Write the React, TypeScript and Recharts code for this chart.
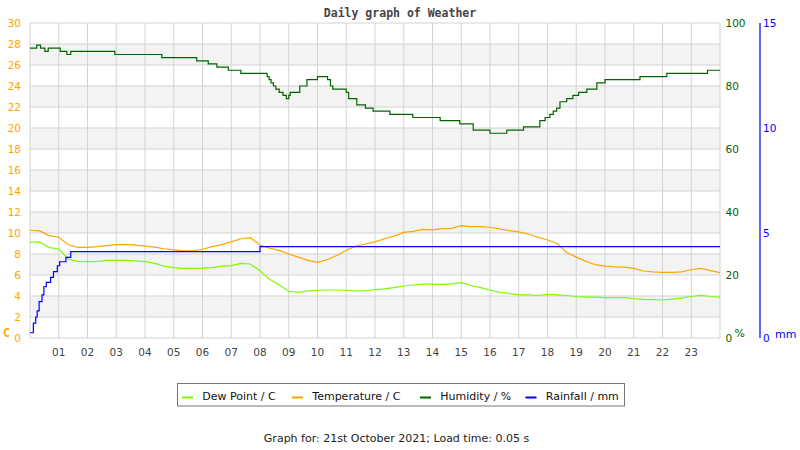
import React from 'react'
import { LineChart, Line, XAxis, YAxis, CartesianGrid } from 'recharts'

// temperature and dew point, read every 20 minutes
const times = [
  '00:00', '00:20', '00:40', '01:00', '01:20', '01:40', '02:00', '02:20', '02:40',
  '03:00', '03:20', '03:40', '04:00', '04:20', '04:40', '05:00', '05:20', '05:40',
  '06:00', '06:20', '06:40', '07:00', '07:20', '07:40', '08:00', '08:20', '08:40',
  '09:00', '09:20', '09:40', '10:00', '10:20', '10:40', '11:00', '11:20', '11:40',
  '12:00', '12:20', '12:40', '13:00', '13:20', '13:40', '14:00', '14:20', '14:40',
  '15:00', '15:20', '15:40', '16:00', '16:20', '16:40', '17:00', '17:20', '17:40',
  '18:00', '18:20', '18:40', '19:00', '19:20', '19:40', '20:00', '20:20', '20:40',
  '21:00', '21:20', '21:40', '22:00', '22:20', '22:40', '23:00', '23:20', '23:40',
  '24:00',
]

const temperature = [
  10.26, 10.2, 9.75, 9.6, 8.88, 8.63, 8.63, 8.7, 8.8,
  8.9, 8.92, 8.85, 8.75, 8.65, 8.5, 8.4, 8.3, 8.3,
  8.45, 8.7, 8.9, 9.15, 9.45, 9.55, 8.85, 8.55, 8.35,
  8.0, 7.7, 7.4, 7.2, 7.45, 7.85, 8.35, 8.75, 8.95,
  9.15, 9.45, 9.7, 10.06, 10.15, 10.35, 10.3, 10.42, 10.44,
  10.7, 10.6, 10.6, 10.55, 10.4, 10.22, 10.1, 9.9, 9.6,
  9.33, 9.0, 8.15, 7.7, 7.3, 6.98, 6.85, 6.78, 6.75,
  6.63, 6.38, 6.3, 6.25, 6.25, 6.3, 6.5, 6.63, 6.42,
  6.22,
]

const dewPoint = [
  9.1, 9.15, 8.6, 8.5, 7.5, 7.3, 7.27, 7.3, 7.4,
  7.4, 7.4, 7.35, 7.27, 7.1, 6.85, 6.7, 6.63, 6.63,
  6.65, 6.7, 6.85, 6.9, 7.1, 7.05, 6.4, 5.6, 5.05,
  4.45, 4.35, 4.48, 4.55, 4.57, 4.57, 4.55, 4.48, 4.5,
  4.6, 4.67, 4.8, 4.95, 5.05, 5.14, 5.14, 5.1, 5.15,
  5.27, 5.0, 4.8, 4.57, 4.35, 4.25, 4.1, 4.1, 4.05,
  4.15, 4.1, 4.05, 3.95, 3.9, 3.9, 3.85, 3.85, 3.85,
  3.75, 3.68, 3.65, 3.62, 3.7, 3.8, 3.95, 4.05, 3.95,
  3.9,
]

// humidity in whole percent, held until it changes
const humTimes = [
  '00:00', '00:14', '00:22', '00:31', '00:38', '01:03', '01:17', '01:25', '02:57',
  '04:35', '05:48', '06:12', '06:30', '06:54', '07:20', '08:15', '08:19', '08:23',
  '08:28', '08:33', '08:40', '08:48', '08:55', '09:00', '09:03', '09:23', '09:38',
  '10:00', '10:21', '10:27', '10:32', '11:00', '11:05', '11:22', '11:40', '11:56',
  '12:31', '13:19', '14:16', '14:57', '15:25', '16:00', '16:35', '17:10', '17:44',
  '17:55', '18:05', '18:12', '18:19', '18:26', '18:40', '18:53', '19:05', '19:22',
  '19:43', '20:00', '21:13', '22:09', '23:34', '24:00',
]
const humidity = [
  92, 93, 92, 91, 92, 91, 90, 91, 90,
  89, 88, 87, 86, 85, 84, 83, 82, 81,
  80, 79, 78, 77, 76, 77, 78, 80, 82,
  83, 82, 80, 79, 78, 76, 74, 73, 72,
  71, 70, 69, 68, 66, 65, 66, 67, 69,
  70, 71, 72, 73, 75, 76, 77, 78, 79,
  81, 82, 83, 84, 85, 85,
]

// rain gauge totals, held until the next reading
const rainTimes = [
  '00:00', '00:07', '00:12', '00:15', '00:19', '00:25', '00:29', '00:34', '00:43',
  '00:49', '00:57', '01:02', '01:15', '01:25', '08:00', '24:00',
]
const rainfall = [
  0.25, 0.71, 1.0, 1.29, 1.73, 2.05, 2.44, 2.65, 2.89,
  3.16, 3.44, 3.63, 3.84, 4.11, 4.35, 4.35,
]

const hourLabels = [
  '01', '02', '03', '04', '05', '06', '07', '08', '09', '10', '11', '12',
  '13', '14', '15', '16', '17', '18', '19', '20', '21', '22', '23',
]
const tempTicks = [0, 2, 4, 6, 8, 10, 12, 14, 16, 18, 20, 22, 24, 26, 28, 30]
const humTicks = [0, 20, 40, 60, 80, 100]
const rainTicks = [0, 5, 10, 15]

const legendItems = [
  { name: 'Dew Point / C', color: '#7cfc00', x: 182 },
  { name: 'Temperature / C', color: '#ffa500', x: 292 },
  { name: 'Humidity / %', color: '#006400', x: 420 },
  { name: 'Rainfall / mm', color: '#0000ff', x: 525.5 },
]

const toHours = (s: string) => {
  const [h, m] = s.split(':').map(Number)
  return h + m / 60
}

const table = times.map((s, i) => ({
  t: toHours(s),
  temp: temperature[i],
  dew: dewPoint[i],
}))
const humData = humTimes.map((s, i) => ({ t: toHours(s), hum: humidity[i] }))
const rainData = rainTimes.map((s, i) => ({ t: toHours(s), rain: rainfall[i] }))

const font = 'DejaVu Sans, sans-serif'
const mono = 'DejaVu Sans Mono, monospace'

export default function App() {
  return (
    <div style={{ position: 'absolute', left: 0, top: 0, width: 800, height: 450, background: '#fff' }}>
      <LineChart
        width={800}
        height={450}
        data={table}
        margin={{ top: 23, right: 0, bottom: 82, left: 0 }}
      >
        <CartesianGrid
          yAxisId='t'
          stroke='#d3d3d3'
          horizontalFill={['#ffffff', '#f3f3f3']}
        />
        <XAxis
          dataKey='t'
          type='number'
          domain={[0, 24]}
          allowDataOverflow
          ticks={[0, ...hourLabels.map(Number), 24]}
          tickFormatter={(v: number) => (v > 0 && v < 24 ? hourLabels[v - 1] : '')}
          interval={0}
          axisLine={false}
          tickLine={false}
          tickSize={6}
          tickMargin={5}
          height={30}
          tick={{ fill: '#444', fontSize: 10.5, fontFamily: font }}
        />
        <YAxis
          yAxisId='t'
          orientation='left'
          width={30}
          domain={[0, 30]}
          ticks={tempTicks}
          interval={0}
          axisLine={false}
          tickLine={false}
          tickSize={6}
          tickMargin={3}
          tick={{ fill: '#ffa500', fontSize: 10.5, fontFamily: font }}
        />
        <YAxis
          yAxisId='h'
          orientation='right'
          width={40}
          domain={[0, 100]}
          ticks={humTicks}
          interval={0}
          axisLine={false}
          tickLine={false}
          tickSize={4}
          tickMargin={1.5}
          tick={{ fill: '#006400', fontSize: 10.5, fontFamily: font }}
        />
        <YAxis
          yAxisId='r'
          orientation='right'
          width={40}
          domain={[0, 15]}
          ticks={rainTicks}
          interval={0}
          axisLine={{ stroke: '#0000ff', strokeWidth: 1.2 }}
          tickLine={false}
          tickSize={1}
          tickMargin={2}
          tick={{ fill: '#0000ff', fontSize: 10.5, fontFamily: font }}
        />
        <Line yAxisId='t' dataKey='dew' type='linear' stroke='#7cfc00' strokeWidth={1.2} dot={false} isAnimationActive={false} />
        <Line yAxisId='t' dataKey='temp' type='linear' stroke='#ffa500' strokeWidth={1.2} dot={false} isAnimationActive={false} />
        <Line yAxisId='h' data={humData} dataKey='hum' type='stepAfter' stroke='#006400' strokeWidth={1.2} dot={false} isAnimationActive={false} />
        <Line yAxisId='r' data={rainData} dataKey='rain' type='stepAfter' stroke='#0000ff' strokeWidth={1.2} dot={false} isAnimationActive={false} />
      </LineChart>

      <svg width={800} height={450} style={{ position: 'absolute', left: 0, top: 0, pointerEvents: 'none' }}>
        <text x={400} y={17} textAnchor='middle' fontFamily={mono} fontWeight='bold' fontSize={11.5} fill='#444'>
          Daily graph of Weather
        </text>
        <text x={3} y={336.5} fontFamily={mono} fontWeight='bold' fontSize={11.5} fill='#ffa500'>C</text>
        <text x={734.5} y={337.3} fontFamily={font} fontSize={11} fill='#006400'>%</text>
        <text x={775} y={337.7} fontFamily={font} fontSize={11} fill='#0000ff'>mm</text>

        <rect x={177.5} y={383.5} width={447} height={22.5} fill='#fff' stroke='#777' />
        {legendItems.map((it) => (
          <g key={it.name}>
            <line x1={it.x} x2={it.x + 11} y1={397.5} y2={397.5} stroke={it.color} strokeWidth={2} />
            <text x={it.x + 20.3} y={400} fontFamily={font} fontSize={11} fill='#111'>{it.name}</text>
          </g>
        ))}

        <text x={396.5} y={441.5} textAnchor='middle' fontFamily={font} fontSize={11} fill='#222'>
          Graph for: 21st October 2021; Load time: 0.05 s
        </text>
      </svg>
    </div>
  )
}
